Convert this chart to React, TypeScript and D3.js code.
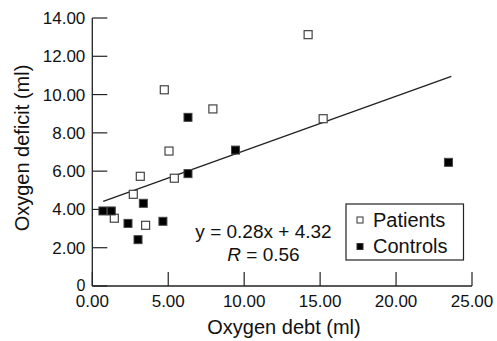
import React from "react";
import * as d3 from "d3";

// values
const patientsX = [4.74, 7.94, 5.05, 14.21, 15.2, 3.16, 5.4, 2.7, 1.45, 3.51];
const patientsY = [10.25, 9.25, 7.05, 13.13, 8.74, 5.73, 5.63, 4.79, 3.54, 3.17];
const controlsX = [6.3, 9.43, 6.3, 23.45, 3.36, 0.7, 1.25, 2.35, 4.65, 3.01];
const controlsY = [8.81, 7.1, 5.87, 6.46, 4.32, 3.92, 3.92, 3.27, 3.38, 2.42];
const fitX = [0.72, 23.64];
const fitY = [4.42, 10.95];
const xTicks = [0, 5, 10, 15, 20, 25];
const yTicks = [0, 2, 4, 6, 8, 10, 12, 14];
const equation = "y = 0.28x + 4.32";
const rValue = "0.56";
const legendLabels = ["Patients", "Controls"];

const W = 497;
const H = 341;
const FONT = "'Liberation Sans', Arial, sans-serif";
const INK = "#222";

const App: React.FC = () => {
  const x = d3.scaleLinear().domain([0, 25]).range([92.3, 472]);
  const y = d3.scaleLinear().domain([0, 14]).range([286, 18]);
  const line = d3
    .line<number>()
    .x((d) => x(d))
    .y((_, i) => y(fitY[i]));

  const sq = 8;
  const x0 = x(0);
  const y0 = y(0);

  return (
    <svg
      width={W}
      height={H}
      style={{ position: "absolute", left: 0, top: 0, background: "#fff" }}
      fontFamily={FONT}
    >
      {/* axes */}
      <line x1={x0} x2={x0} y1={y(14)} y2={y0} stroke={INK} strokeWidth={1.3} />
      <line x1={x0} x2={x(25)} y1={y0} y2={y0} stroke={INK} strokeWidth={1.3} />
      {yTicks.map((t) => (
        <g key={"y" + t}>
          <line x1={x0} x2={x0 + 15} y1={y(t)} y2={y(t)} stroke={INK} strokeWidth={1.2} />
          <text
            x={x0 - 7}
            y={y(t) + (t === 0 ? 5 : 6)}
            textAnchor="end"
            fontSize={t === 0 ? 16 : 17}
            fill="#111"
          >
            {t === 0 ? "0" : t.toFixed(2)}
          </text>
        </g>
      ))}
      {xTicks.map((t) => (
        <g key={"x" + t}>
          <line x1={x(t)} x2={x(t)} y1={y0} y2={y0 - 14} stroke={INK} strokeWidth={1.2} />
          <text x={x(t)} y={y0 + 21} textAnchor="middle" fontSize={17} fill="#111">
            {t.toFixed(2)}
          </text>
        </g>
      ))}

      {/* axis titles */}
      <text x={284} y={334} textAnchor="middle" fontSize={20} fill="#111">
        Oxygen debt (ml)
      </text>
      <text
        transform={`translate(29,148) rotate(-90)`}
        textAnchor="middle"
        fontSize={20}
        fill="#111"
      >
        Oxygen deficit (ml)
      </text>

      {/* regression line */}
      <path d={line(fitX) || ""} fill="none" stroke={INK} strokeWidth={1.4} />

      {/* points */}
      {patientsX.map((d, i) => (
        <rect
          key={"p" + i}
          x={x(d) - sq / 2}
          y={y(patientsY[i]) - sq / 2}
          width={sq}
          height={sq}
          fill="#fff"
          stroke="#444"
          strokeWidth={1.2}
        />
      ))}
      {controlsX.map((d, i) => (
        <rect
          key={"c" + i}
          x={x(d) - sq / 2}
          y={y(controlsY[i]) - sq / 2}
          width={sq}
          height={sq}
          fill="#000"
          stroke="#444"
          strokeWidth={1}
        />
      ))}

      {/* equation */}
      <text x={263.5} y={238} textAnchor="middle" fontSize={19} fill="#111">
        {equation}
      </text>
      <text x={263.5} y={261} textAnchor="middle" fontSize={19} fill="#111">
        <tspan fontStyle="italic">R</tspan> = {rValue}
      </text>

      {/* legend */}
      <rect x={346} y={204} width={117.5} height={56} fill="#fff" stroke={INK} strokeWidth={1.2} />
      {legendLabels.map((l, i) => (
        <g key={l} transform={`translate(0,${i * 26.5})`}>
          <rect
            x={357}
            y={217}
            width={6}
            height={6}
            fill={i === 0 ? "#fff" : "#000"}
            stroke="#333"
            strokeWidth={1}
          />
          <text x={373} y={226.5} fontSize={20} fill="#111">
            {l}
          </text>
        </g>
      ))}
    </svg>
  );
};

export default App;
